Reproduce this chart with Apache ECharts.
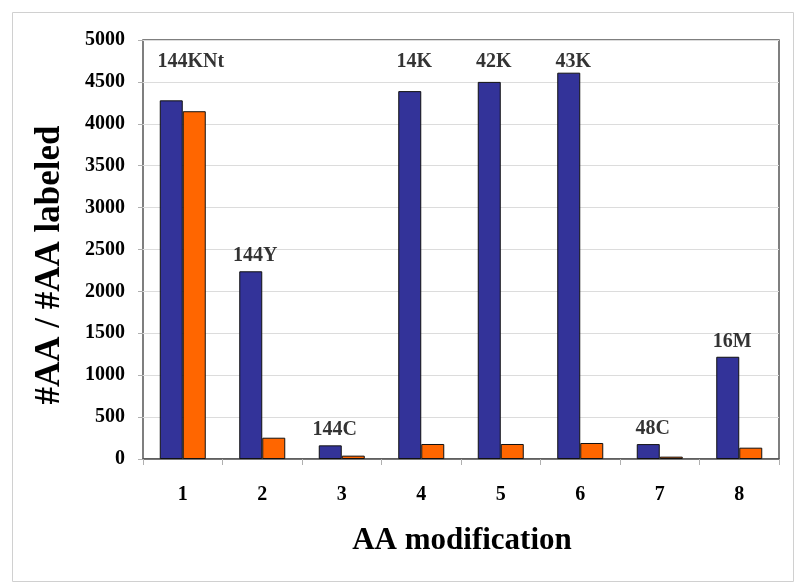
<!DOCTYPE html>
<html>
<head>
<meta charset="utf-8">
<script src="https://cdn.jsdelivr.net/npm/echarts@6/dist/echarts.min.js"></script>
<style>
html,body{margin:0;padding:0;background:#fff;}
#chart{width:800px;height:587px;}
</style>
</head>
<body>
<div id="chart"></div>
<script>
var categories = ['1','2','3','4','5','6','7','8'];
var blueValues = [4280, 2240, 163, 4390, 4500, 4610, 178, 1220];
var orangeValues = [4150, 254, 40, 179, 179, 191, 28, 135];
var barLabels = ['144KNt','144Y','144C','14K','42K','43K','48C','16M'];
var yTicks = {min: 0, max: 5000, interval: 500};
var xTitle = 'AA modification';
var yTitle = '#AA / #AA labeled';

var FONT = '"Liberation Serif", "Times New Roman", serif';
var chart = echarts.init(document.getElementById('chart'), null, {renderer: 'canvas'});

var labelData = blueValues.map(function (v, i) {
  var item = {value: [categories[i], v > 4000 ? 4740 : v + 180]};
  if (i === 0) {
    item.label = {offset: [8, 0]};
  }
  return item;
});

chart.setOption({
  animation: false,
  backgroundColor: '#fff',
  graphic: [
    {type: 'rect', left: 10, top: 10, shape: {width: 781, height: 569},
     style: {fill: 'none', stroke: '#d0d0d0', lineWidth: 1}, z: -10},
    {type: 'text', x: 462, y: 541,
     style: {text: xTitle, font: 'bold 31px ' + FONT, fill: '#000',
             textAlign: 'center', textVerticalAlign: 'middle'}},
    {type: 'text', x: 50, y: 265, rotation: Math.PI / 2,
     style: {text: yTitle, font: 'bold 35px ' + FONT, fill: '#000',
             textAlign: 'center', textVerticalAlign: 'middle'}}
  ],
  grid: {left: 143, right: 21, top: 40, bottom: 128, show: true,
         borderColor: '#555', borderWidth: 1.5, backgroundColor: '#fff'},
  xAxis: {
    type: 'category', data: categories,
    axisLine: {show: true, lineStyle: {color: '#555', width: 1.5}},
    axisTick: {show: true, length: 6, lineStyle: {color: '#b0b0b0'}},
    axisLabel: {fontFamily: FONT, fontWeight: 'bold', fontSize: 20, color: '#000', margin: 26},
    splitLine: {show: false}
  },
  yAxis: {
    type: 'value', min: yTicks.min, max: yTicks.max, interval: yTicks.interval,
    axisLine: {show: false},
    axisTick: {show: true, length: 5, lineStyle: {color: '#b0b0b0'}},
    axisLabel: {fontFamily: FONT, fontWeight: 'bold', fontSize: 20, color: '#000', margin: 18,
                formatter: function (v) { return String(v); }},
    splitLine: {show: true, lineStyle: {color: '#dcdcdc', width: 1}}
  },
  series: [
    {type: 'bar', data: blueValues, barWidth: 23, barGap: '0%',
     itemStyle: {color: '#333399', borderColor: '#111', borderWidth: 1}},
    {type: 'bar', data: orangeValues, barWidth: 23, barGap: '0%',
     itemStyle: {color: '#FF6600', borderColor: '#111', borderWidth: 1}},
    {type: 'scatter', data: labelData, symbolSize: 0, silent: true, z: 10,
     label: {show: true, position: 'inside', offset: [-7, 0],
             formatter: function (p) { return barLabels[p.dataIndex]; },
             fontFamily: FONT, fontWeight: 'bold', fontSize: 20, color: '#000'}}
  ]
});
</script>
</body>
</html>
